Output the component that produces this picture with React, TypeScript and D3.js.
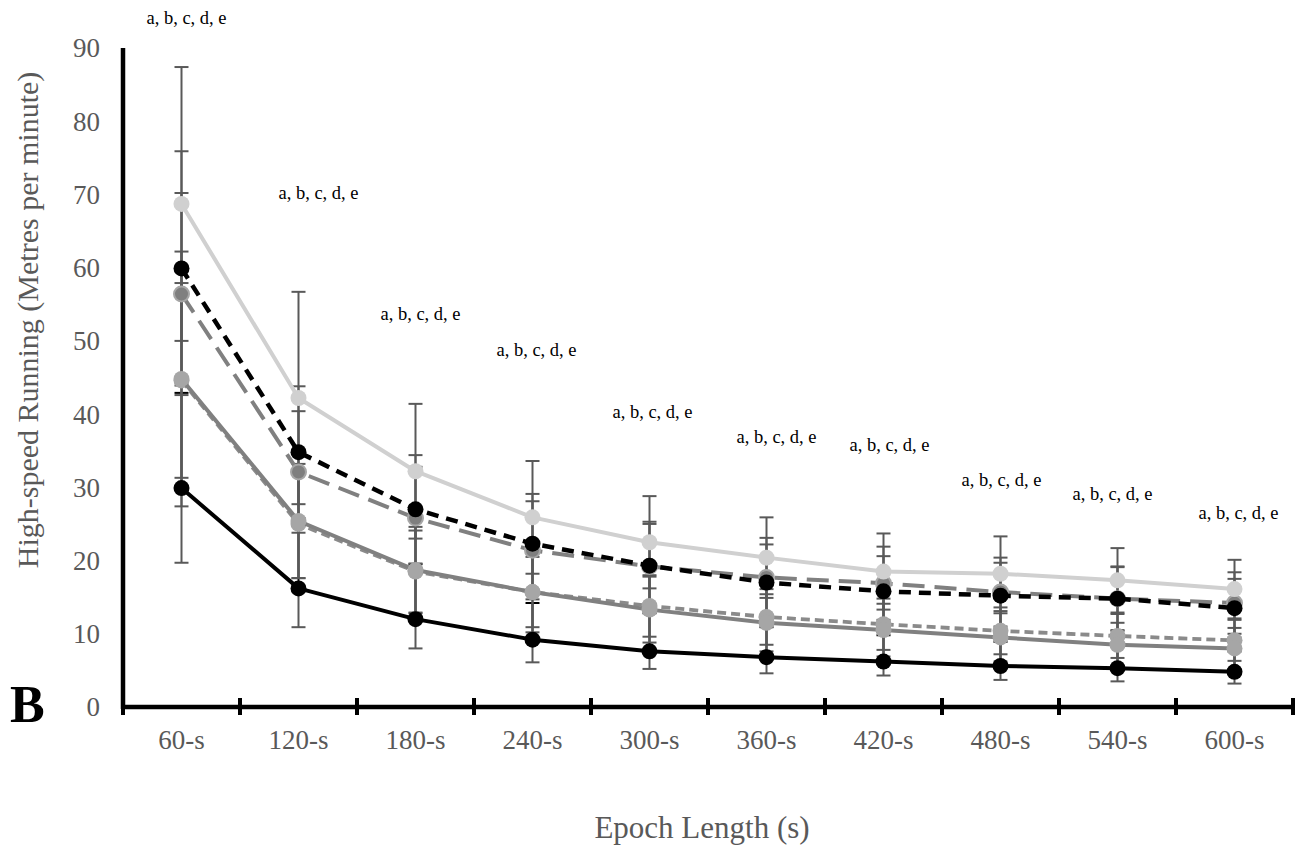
import React from "react";
import * as d3 from "d3";

// Epoch lengths on the x axis
const epochs = ["60-s", "120-s", "180-s", "240-s", "300-s", "360-s", "420-s", "480-s", "540-s", "600-s"];
const yTicks = [0, 10, 20, 30, 40, 50, 60, 70, 80, 90];

// Series means (metres per minute)
const lightGreySolid = [68.7, 42.2, 32.2, 25.9, 22.5, 20.4, 18.5, 18.2, 17.3, 16.1];
const blackDashed = [59.9, 34.8, 27.0, 22.3, 19.3, 17.0, 15.8, 15.2, 14.8, 13.5];
const greyLongDash = [56.4, 32.1, 25.8, 21.4, 19.2, 17.7, 16.9, 15.7, 14.8, 14.2];
const greySolid = [44.8, 25.4, 18.7, 15.7, 13.3, 11.5, 10.5, 9.5, 8.5, 8.0];
const greyDotted = [44.6, 25.0, 18.5, 15.7, 13.8, 12.3, 11.3, 10.4, 9.7, 9.1];
const blackSolid = [29.9, 16.2, 12.0, 9.2, 7.6, 6.8, 6.2, 5.6, 5.3, 4.8];

// Error bar sizes (+ / -)
const lightGreySd = [18.7, 14.5, 9.2, 7.7, 6.3, 5.5, 5.2, 5.1, 4.4, 4.0];
const blackDashedSd = [16.0, 9.0, 7.4, 6.8, 6.0, 5.2, 4.8, 4.5, 4.3, 4.0];
const greyLongDashSd = [13.8, 8.3, 7.0, 6.7, 5.8, 5.4, 5.0, 4.7, 4.4, 4.2];
const greySolidSd = [17.4, 7.8, 5.9, 5.5, 4.5, 3.9, 3.6, 3.3, 3.0, 2.8];
const greyDottedSd = [13.3, 7.4, 5.6, 4.8, 4.2, 3.8, 3.5, 3.2, 3.0, 2.8];
const blackSolidPlus = [13.0, 9.5, 7.5, 5.0, 5.2, 4.1, 3.6, 3.3, 3.0, 2.8];
const blackSolidMinus = [10.2, 5.3, 4.0, 3.1, 2.4, 2.2, 1.9, 1.9, 1.8, 1.6];

// Significance annotations
const annotText = "a, b, c, d, e";
const annotLevel = [94.2, 70.2, 53.8, 48.8, 40.4, 37.0, 35.8, 31.0, 29.2, 26.5];
const annotShift = [5, 20, 5, 4, 3, 10, 6, 1, -5, 4];

const W = 1308;
const H = 846;
const font = "'Liberation Serif', 'Times New Roman', serif";

type Series = {
  values: number[];
  plus: number[];
  minus: number[];
  stroke: string;
  dash?: string;
  width: number;
  fill: string;
  ring?: string;
  plusColor: string;
  minusColor: string;
};

// bottom -> top drawing order
const series: Series[] = [
  { values: blackSolid, plus: blackSolidPlus, minus: blackSolidMinus, stroke: "#000", width: 4, fill: "#000", plusColor: "#000", minusColor: "#595959" },
  { values: greyDotted, plus: greyDottedSd, minus: greyDottedSd, stroke: "#8a8a8a", dash: "9,5", width: 3.8, fill: "#a6a6a6", plusColor: "#595959", minusColor: "#595959" },
  { values: greySolid, plus: greySolidSd, minus: greySolidSd, stroke: "#808080", width: 4, fill: "#a6a6a6", plusColor: "#595959", minusColor: "#595959" },
  { values: greyLongDash, plus: greyLongDashSd, minus: greyLongDashSd, stroke: "#808080", dash: "22,10", width: 4, fill: "#7f7f7f", ring: "#a6a6a6", plusColor: "#595959", minusColor: "#595959" },
  { values: blackDashed, plus: blackDashedSd, minus: blackDashedSd, stroke: "#000", dash: "12,8", width: 4.5, fill: "#000", plusColor: "#595959", minusColor: "#595959" },
  { values: lightGreySolid, plus: lightGreySd, minus: lightGreySd, stroke: "#d0d0d0", width: 4, fill: "#d0d0d0", plusColor: "#595959", minusColor: "#595959" },
];

export default function App() {
  const x = d3.scaleBand<string>().domain(epochs).range([123, 1293]).padding(0);
  const y = d3.scaleLinear().domain([0, 90]).range([707, 48]);
  const cx = (i: number) => (x(epochs[i]) as number) + x.bandwidth() / 2;
  const line = d3
    .line<number>()
    .x((_, i) => cx(i))
    .y((d) => y(d));
  const cap = 7;
  const y0 = y(0);
  const boundaries = [...epochs.map((e) => x(e) as number), x.range()[1]];

  return (
    <svg width={W} height={H} style={{ position: "absolute", left: 0, top: 0 }} fontFamily={font}>
      {/* error bars */}
      {series.map((s, si) => (
        <g key={"err" + si}>
          {s.values.map((v, i) => {
            const px = cx(i);
            const top = y(v + s.plus[i]);
            const bot = y(v - s.minus[i]);
            return (
              <g key={i} strokeWidth={2}>
                <line x1={px} x2={px} y1={y(v)} y2={top} stroke={s.plusColor} />
                <line x1={px - cap} x2={px + cap} y1={top} y2={top} stroke={s.plusColor} />
                <line x1={px} x2={px} y1={y(v)} y2={bot} stroke={s.minusColor} />
                <line x1={px - cap} x2={px + cap} y1={bot} y2={bot} stroke={s.minusColor} />
              </g>
            );
          })}
        </g>
      ))}

      {/* lines and markers */}
      {series.map((s, si) => (
        <g key={"ser" + si}>
          <path d={line(s.values) || ""} fill="none" stroke={s.stroke} strokeWidth={s.width} strokeDasharray={s.dash} strokeLinejoin="round" />
          {s.values.map((v, i) => (
            <circle key={i} cx={cx(i)} cy={y(v)} r={s.ring ? 7.5 : 8} fill={s.fill} stroke={s.ring} strokeWidth={s.ring ? 2 : 0} />
          ))}
        </g>
      ))}

      {/* axes */}
      <line x1={123} x2={123} y1={y(90)} y2={y0 + 2} stroke="#000" strokeWidth={4.5} />
      <line x1={121} x2={1295} y1={y0} y2={y0} stroke="#000" strokeWidth={4.5} />
      {boundaries.map((b, i) => (
        <line key={i} x1={b} x2={b} y1={y0 - 9} y2={y0 + 8} stroke="#000" strokeWidth={4} />
      ))}
      {yTicks.map((t) => (
        <text key={t} x={100} y={y(t)} dy="0.35em" textAnchor="end" fontSize={27} fill="#595959">
          {t}
        </text>
      ))}
      {epochs.map((e, i) => (
        <text key={e} x={cx(i)} y={y0 + 42} textAnchor="middle" fontSize={27} fill="#595959">
          {e}
        </text>
      ))}

      {/* annotations */}
      {annotLevel.map((a, i) => (
        <text key={i} x={cx(i) + annotShift[i]} y={y(a)} dy="0.35em" textAnchor="middle" fontSize={18.5} fill="#000">
          {annotText}
        </text>
      ))}

      {/* titles */}
      <text x={702} y={838} textAnchor="middle" fontSize={31} fill="#595959">
        Epoch Length (s)
      </text>
      <text transform={`translate(38,${320}) rotate(-90)`} textAnchor="middle" fontSize={30} fill="#595959">
        High-speed Running (Metres per minute)
      </text>
      <text x={10} y={722} fontSize={52} fontWeight="bold" fill="#000">
        B
      </text>
    </svg>
  );
}
